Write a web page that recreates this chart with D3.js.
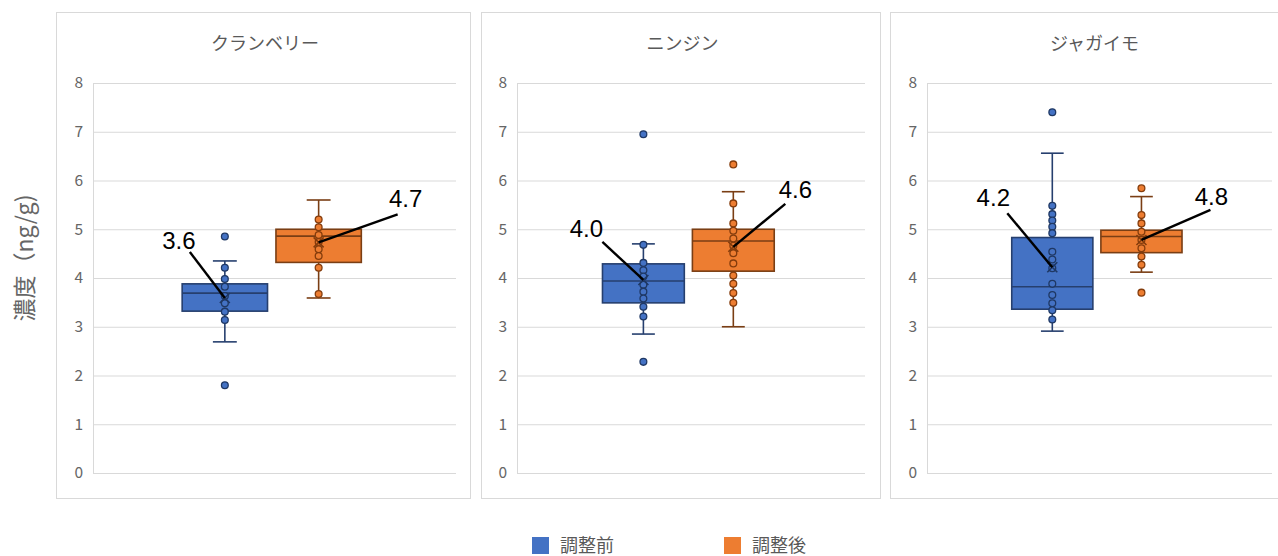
<!DOCTYPE html>
<html>
<head>
<meta charset="utf-8">
<script src="https://cdn.jsdelivr.net/npm/d3@7"></script>
<style>
  body { margin: 0; background: #fff; }
  text { font-family: "Noto Sans CJK JP", "Noto Sans", sans-serif; }
</style>
</head>
<body>
<svg id="chart"></svg>
<script>
// categories / series
var categories = ["クランベリー", "ニンジン", "ジャガイモ"];
var seriesNames = ["調整前", "調整後"];
var yTicks = [0, 1, 2, 3, 4, 5, 6, 7, 8];

// box statistics, [調整前, 調整後] per category
var q1Values = [[3.32, 4.32], [3.49, 4.14], [3.36, 4.52]];
var medianValues = [[3.69, 4.86], [3.94, 4.76], [3.82, 4.85]];
var q3Values = [[3.88, 5.00], [4.29, 5.00], [4.83, 4.98]];
var whiskerLow = [[2.69, 3.59], [2.85, 3.00], [2.91, 4.12]];
var whiskerHigh = [[4.35, 5.60], [4.70, 5.77], [6.56, 5.67]];
var meanValues = [[3.59, 4.73], [3.96, 4.64], [4.22, 4.78]];

// individual points (inner points + outliers)
var pointValues = [
  [[4.85, 4.21, 3.98, 3.82, 3.63, 3.48, 3.31, 3.14, 1.80],
   [5.20, 5.04, 4.88, 4.74, 4.59, 4.45, 4.21, 3.67]],
  [[6.95, 4.68, 4.31, 4.16, 4.03, 3.86, 3.72, 3.58, 3.41, 3.21, 2.28],
   [6.33, 5.53, 5.12, 4.97, 4.81, 4.66, 4.51, 4.30, 4.05, 3.88, 3.69, 3.49]],
  [[7.40, 5.48, 5.31, 5.18, 5.05, 4.92, 4.54, 4.38, 4.20, 3.88, 3.65, 3.48, 3.34, 3.15],
   [5.84, 5.29, 5.12, 4.95, 4.78, 4.61, 4.44, 4.27, 3.70]]
];

// layout
var width = 1278, height = 556;
var frames = [[56, 470], [481, 880], [890, 1295]];
var plots = [[93, 456], [517, 865], [927, 1272]];
var frameTop = 12, frameBottom = 498;
var plotTop = 83, plotBottom = 473;

// mean label placement (leader end lx/ly, text centre tx/ty), relative to mean point
var labelLayout = [
  [{ lx: -35, ly: -46, tx: -46, ty: -57 }, { lx: 79, ly: -28, tx: 87, ty: -44 }],
  [{ lx: -41, ly: -38, tx: -57, ty: -51 }, { lx: 52, ly: -43, tx: 62, ty: -57 }],
  [{ lx: -45, ly: -54, tx: -59, ty: -70 }, { lx: 69, ly: -30, tx: 70, ty: -43 }]
];

var fillColors = ["#4472C4", "#ED7D31"];
var lineColors = ["#263F6E", "#7A3E14"];
var pointStroke = ["#1F3864", "#843C0C"];

var svg = d3.select("#chart")
  .attr("width", width)
  .attr("height", height);

var y = d3.scaleLinear().domain([0, 8]).range([plotBottom, plotTop]);
var fmt = d3.format(".1f");

categories.forEach(function (cat, ci) {
  var frame = frames[ci], plot = plots[ci];

  var x = d3.scaleBand()
    .domain(seriesNames)
    .range(plot)
    .paddingInner(0.09)
    .paddingOuter(0.98)
    .align(0.485);

  var g = svg.append("g");

  // panel frame
  g.append("rect")
    .attr("x", frame[0] + 0.5)
    .attr("y", frameTop + 0.5)
    .attr("width", frame[1] - frame[0])
    .attr("height", frameBottom - frameTop)
    .attr("fill", "#fff")
    .attr("stroke", "#d9d9d9");

  // title
  g.append("text")
    .attr("x", (frame[0] + frame[1]) / 2 + 2)
    .attr("y", 44)
    .attr("dy", "0.35em")
    .attr("text-anchor", "middle")
    .style("font-size", "18px")
    .style("fill", "#595959")
    .text(cat);

  // gridlines + tick labels
  var yAxis = g.append("g")
    .attr("transform", "translate(" + plot[0] + ",0)")
    .call(d3.axisLeft(y).tickValues(yTicks).tickSize(-(plot[1] - plot[0])).tickPadding(10).tickFormat(d3.format("d")));
  yAxis.select(".domain").remove();
  yAxis.selectAll(".tick line").attr("stroke", "#d9d9d9").attr("stroke-width", 1.2);
  yAxis.selectAll(".tick text")
    .style("font-size", "15.5px")
    .style("fill", "#666");

  // vertical axis line
  g.append("line")
    .attr("x1", plot[0] + 0.5).attr("x2", plot[0] + 0.5)
    .attr("y1", y(8)).attr("y2", y(0))
    .attr("stroke", "#d9d9d9");

  seriesNames.forEach(function (s, si) {
    var bx = x(s), bw = x.bandwidth(), cx = bx + bw / 2;
    var capW = bw * 0.28;
    var sg = g.append("g");

    // whiskers
    sg.append("line")
      .attr("x1", cx).attr("x2", cx)
      .attr("y1", y(whiskerHigh[ci][si])).attr("y2", y(q3Values[ci][si]))
      .attr("stroke", lineColors[si]).attr("stroke-width", 1.6);
    sg.append("line")
      .attr("x1", cx).attr("x2", cx)
      .attr("y1", y(q1Values[ci][si])).attr("y2", y(whiskerLow[ci][si]))
      .attr("stroke", lineColors[si]).attr("stroke-width", 1.6);
    [whiskerHigh[ci][si], whiskerLow[ci][si]].forEach(function (v) {
      sg.append("line")
        .attr("x1", cx - capW / 2).attr("x2", cx + capW / 2)
        .attr("y1", y(v)).attr("y2", y(v))
        .attr("stroke", lineColors[si]).attr("stroke-width", 1.6);
    });

    // box
    sg.append("rect")
      .attr("x", bx)
      .attr("y", y(q3Values[ci][si]))
      .attr("width", bw)
      .attr("height", y(q1Values[ci][si]) - y(q3Values[ci][si]))
      .attr("fill", fillColors[si])
      .attr("stroke", lineColors[si])
      .attr("stroke-width", 1.6);

    // median
    sg.append("line")
      .attr("x1", bx).attr("x2", bx + bw)
      .attr("y1", y(medianValues[ci][si])).attr("y2", y(medianValues[ci][si]))
      .attr("stroke", lineColors[si]).attr("stroke-width", 1.6);

    // points
    sg.selectAll(".pt")
      .data(pointValues[ci][si])
      .enter().append("circle")
      .attr("class", "pt")
      .attr("cx", cx)
      .attr("cy", function (d) { return y(d); })
      .attr("r", 3.4)
      .attr("fill", fillColors[si])
      .attr("stroke", pointStroke[si])
      .attr("stroke-width", 1.3);

    // mean marker
    var my = y(meanValues[ci][si]), m = 5;
    sg.append("path")
      .attr("d", "M" + (cx - m) + "," + (my - m) + "L" + (cx + m) + "," + (my + m) +
        "M" + (cx - m) + "," + (my + m) + "L" + (cx + m) + "," + (my - m))
      .attr("stroke", pointStroke[si])
      .attr("stroke-width", 1.6);

    // mean label with leader line
    var lab = labelLayout[ci][si];
    sg.append("line")
      .attr("x1", cx).attr("y1", my)
      .attr("x2", cx + lab.lx).attr("y2", my + lab.ly)
      .attr("stroke", "#000")
      .attr("stroke-width", 2.4);
    sg.append("text")
      .attr("x", cx + lab.tx)
      .attr("y", my + lab.ty)
      .attr("dy", "0.35em")
      .attr("text-anchor", "middle")
      .style("font-family", "'Liberation Sans', Arial, sans-serif")
      .style("font-size", "24px")
      .style("fill", "#000")
      .text(fmt(meanValues[ci][si]));
  });
});

// y axis title
svg.append("text")
  .attr("transform", "translate(25,258) rotate(-90)")
  .attr("dy", "0.35em")
  .attr("text-anchor", "middle")
  .style("font-size", "23px")
  .style("fill", "#666")
  .text("濃度（ng/g)");

// legend
var legendX = [532, 724];
var legend = svg.selectAll(".legend")
  .data(seriesNames)
  .enter().append("g")
  .attr("class", "legend")
  .attr("transform", function (d, i) { return "translate(" + legendX[i] + ",537)"; });
legend.append("rect")
  .attr("width", 17).attr("height", 17)
  .attr("fill", function (d, i) { return fillColors[i]; });
legend.append("text")
  .attr("x", 28).attr("y", 8.5)
  .attr("dy", "0.35em")
  .style("font-size", "18px")
  .style("fill", "#595959")
  .text(function (d) { return d; });
</script>
</body>
</html>
